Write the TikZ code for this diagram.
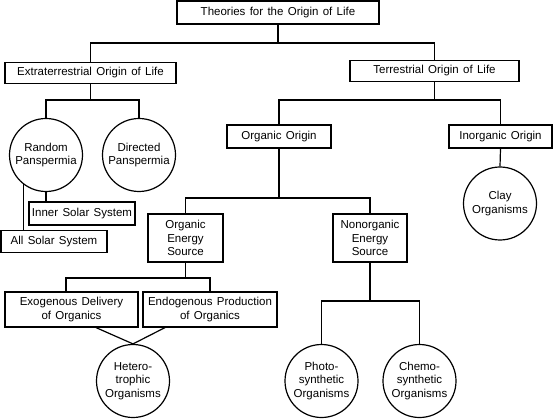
\documentclass[tikz,border=0pt]{standalone}
\usepackage{fontspec}
\setmainfont{Liberation Sans}[WordSpace=1.35]
\begin{document}
\begin{tikzpicture}[x=1pt,y=-1pt,
  every node/.style={font=\fontsize{11.5}{13.3}\selectfont, align=center, inner sep=0pt},
  box/.style={draw, line width=1.2pt, rectangle, minimum height=#1},
  box/.default=22pt,
  orb/.style={draw, line width=1.2pt, circle, minimum size=73pt},
  conn/.style={line width=1.2pt}
]
\useasboundingbox (0,0) rectangle (553,419);
% boxes
\node[box=23pt, minimum width=202pt] (top) at (278,12.5) {Theories for the Origin of Life};
\node[box=21pt, minimum width=171pt] (ext) at (90.5,73) {Extraterrestrial Origin of Life};
\node[box=21pt, minimum width=169pt] (ter) at (434.5,71) {Terrestrial Origin of Life};
\node[orb] (rand) at (46,155) {Random\\Panspermia};
\node[orb] (dir) at (139,155) {Directed\\Panspermia};
\node[box=23pt, minimum width=106pt] (inner) at (82,213.5) {Inner Solar System};
\node[box=22pt, minimum width=106pt] (all) at (54,241.5) {All Solar System};
\node[box=23pt, minimum width=104pt] (org) at (279,136.5) {Organic Origin};
\node[box=23pt, minimum width=103pt] (inorg) at (500.5,136.5) {Inorganic Origin};
\node[orb] (clay) at (500,203.5) {Clay\\Organisms};
\node[box=48pt, minimum width=75pt] (oes) at (185.5,238) {Organic\\Energy\\Source};
\node[box=48pt, minimum width=74pt] (nes) at (370,238) {Nonorganic\\Energy\\Source};
\node[box=35pt, minimum width=133pt] (exo) at (71.5,309.5) {Exogenous Delivery\\of Organics};
\node[box=35pt, minimum width=134pt] (endo) at (210,309.5) {Endogenous Production\\of Organics};
\node[orb] (het) at (133,381) {Hetero-\\trophic\\Organisms};
\node[orb] (photo) at (321.5,381) {Photo-\\synthetic\\Organisms};
\node[orb] (chemo) at (419.5,381) {Chemo-\\synthetic\\Organisms};
% connectors
\draw[conn] (top.south) -- (top.south |- 0,43) -| (ext.north);
\draw[conn] (top.south |- 0,43) -| (ter.north);
\draw[conn] (ext.south) -- (ext.south |- 0,100) -| (rand.north);
\draw[conn] (ext.south |- 0,100) -| (dir.north);
\draw[conn] (rand.south) -- (rand.south |- inner.north);
\draw[conn] (rand.232) -- (rand.232 |- all.north);
\draw[conn] (ter.south) -- (ter.south |- 0,100) -| (org.north);
\draw[conn] (ter.south |- 0,100) -| (inorg.north);
\draw[conn] (inorg.south) -- (clay.north);
\draw[conn] (org.south) -- (org.south |- 0,198) -| (oes.north);
\draw[conn] (org.south |- 0,198) -| (nes.north);
\draw[conn] (oes.south) -- (oes.south |- 0,278) -| (66,0 |- exo.north);
\draw[conn] (oes.south |- 0,278) -| (endo.north);
\draw[conn] (96,0 |- exo.south) -- (het.north);
\draw[conn] (165,0 |- endo.south) -- (het.north);
\draw[conn] (nes.south) -- (nes.south |- 0,301) -| (photo.north);
\draw[conn] (nes.south |- 0,301) -| (chemo.north);
\end{tikzpicture}
\end{document}
